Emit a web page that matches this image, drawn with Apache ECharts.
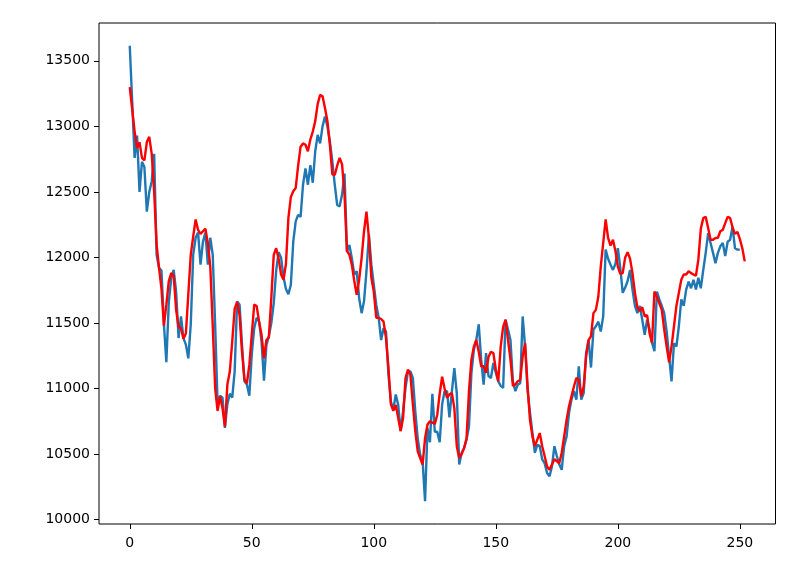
<!DOCTYPE html>
<html>
<head>
<meta charset="utf-8">
<script src="https://cdn.jsdelivr.net/npm/echarts@6/dist/echarts.min.js"></script>
<style>
html,body{margin:0;padding:0;background:#fff;}
#chart{width:809px;height:583px;}
</style>
</head>
<body>
<div id="chart"></div>
<script>
// Actual series (blue)
const actual = [
13615,13190,12760,12930,12500,12730,12690,12350,12500,12580,
12790,12020,11920,11900,11490,11200,11660,11840,11905,11740,
11385,11550,11385,11335,11230,11490,12020,12150,12190,11945,
12120,12190,11945,12150,12020,11480,10880,10945,10930,10700,
10880,10960,10930,11135,11665,11640,11335,11055,11030,10945,
11260,11460,11540,11510,11360,11060,11330,11400,11500,11650,
11900,12040,12000,11850,11760,11720,11790,12120,12275,12325,
12310,12555,12680,12555,12705,12570,12810,12935,12870,13000,
13075,13000,12885,12735,12555,12400,12390,12480,12640,12045,
12095,11995,11870,11895,11690,11575,11665,11895,12175,11945,
11790,11640,11540,11370,11460,11435,11105,10900,10840,10955,
10875,10675,10825,11005,11130,11130,11080,10825,10620,10495,
10445,10140,10700,10590,10960,10670,10670,10590,10880,10980,
10980,10780,10980,11155,10965,10420,10510,10545,10610,10710,
11120,11295,11370,11490,11220,11030,11270,11095,11080,11195,
11120,11055,11020,11005,11525,11450,11370,11055,10980,11030,
11040,11550,11320,10990,10815,10660,10510,10570,10560,10460,
10430,10355,10330,10405,10560,10485,10420,10380,10560,10635,
10815,10915,10980,10915,11170,10915,10965,11270,11370,11160,
11450,11475,11510,11435,11550,12060,11990,11945,11905,11950,
12070,11920,11730,11770,11820,11905,11755,11630,11575,11630,
11525,11410,11525,11450,11350,11285,11740,11680,11630,11575,
11435,11245,11055,11345,11320,11475,11680,11630,11755,11815,
11765,11830,11755,11845,11765,11905,12035,12185,12110,12035,
11955,12035,12085,12110,12010,12120,12135,12235,12070,12060,
12060
];
// Predicted series (red)
const predicted = [
13300,13130,12960,12835,12880,12760,12740,12880,12920,12790,
12500,12100,11920,11760,11480,11640,11820,11880,11860,11600,
11470,11460,11380,11420,11720,12020,12160,12290,12210,12180,
12200,12220,12110,11930,11480,11000,10830,10940,10850,10710,
11030,11130,11360,11610,11660,11560,11280,11070,11040,11180,
11410,11640,11630,11510,11410,11230,11370,11390,11690,12020,
12070,11990,11870,11830,11950,12300,12460,12505,12530,12700,
12845,12870,12860,12810,12900,12960,13040,13170,13240,13230,
13140,13040,12860,12635,12630,12700,12760,12710,12480,12050,
12020,11945,11820,11715,11830,11995,12200,12350,12150,11845,
11740,11540,11540,11530,11510,11385,11160,10880,10830,10875,
10775,10675,10775,11080,11145,11105,10880,10675,10520,10470,
10420,10620,10725,10750,10740,10730,10800,10960,11090,11000,
10930,10955,10965,10850,10560,10470,10500,10545,10620,10980,
11220,11320,11370,11280,11170,11170,11120,11240,11280,11270,
11145,11055,11320,11470,11525,11370,11220,11020,11030,11055,
11065,11245,11345,11020,10760,10635,10560,10610,10660,10560,
10485,10405,10380,10420,10460,10445,10430,10510,10635,10760,
10865,10940,11015,11080,11065,10940,11015,11245,11370,11400,
11575,11600,11700,11930,12110,12290,12150,12090,12135,12050,
11930,11875,11880,12000,12040,11990,11880,11730,11620,11590,
11620,11550,11560,11420,11350,11740,11700,11650,11600,11450,
11320,11200,11320,11475,11630,11730,11830,11870,11870,11895,
11880,11870,11860,11985,12220,12300,12310,12225,12135,12135,
12148,12150,12200,12210,12262,12310,12300,12230,12180,12195,
12140,12070,11970
];
const xTicks = [0, 50, 100, 150, 200, 250];
const yTicks = [10000, 10500, 11000, 11500, 12000, 12500, 13000, 13500];

// matplotlib-like 5% margins
const xMaxData = Math.max(actual.length, predicted.length) - 1;
const xLo = -0.05 * xMaxData, xHi = xMaxData * 1.05;
const all = actual.concat(predicted);
const dMin = Math.min.apply(null, all), dMax = Math.max.apply(null, all);
const yLo = dMin - 0.05 * (dMax - dMin), yHi = dMax + 0.05 * (dMax - dMin);

const chart = echarts.init(document.getElementById('chart'), null, {renderer: 'canvas'});
const font = {fontFamily: 'DejaVu Sans', fontSize: 14, color: '#000'};
chart.setOption({
  animation: false,
  backgroundColor: '#fff',
  grid: {left: 99, right: 33.5, top: 23, bottom: 59, show: true, borderColor: '#000', borderWidth: 1, backgroundColor: 'transparent'},
  xAxis: {
    type: 'value', min: xLo, max: xHi,
    axisLine: {show: false, onZero: false},
    splitLine: {show: false},
    axisTick: {show: true, length: 5, lineStyle: {color: '#000', width: 1}, customValues: xTicks},
    axisLabel: Object.assign({margin: 12, customValues: xTicks, formatter: v => String(v)}, font)
  },
  yAxis: {
    type: 'value', min: yLo, max: yHi,
    axisLine: {show: false, onZero: false},
    splitLine: {show: false},
    axisTick: {show: true, length: 5, lineStyle: {color: '#000', width: 1}, customValues: yTicks},
    axisLabel: Object.assign({margin: 9, customValues: yTicks, formatter: v => String(v)}, font)
  },
  series: [
    {type: 'line', data: actual.map((v, i) => [i, v]), showSymbol: false, lineStyle: {color: '#1f77b4', width: 2.4}, itemStyle: {color: '#1f77b4'}, z: 2},
    {type: 'line', data: predicted.map((v, i) => [i, v]), showSymbol: false, lineStyle: {color: '#ff0000', width: 2.4}, itemStyle: {color: '#ff0000'}, z: 3}
  ]
});
</script>
</body>
</html>
